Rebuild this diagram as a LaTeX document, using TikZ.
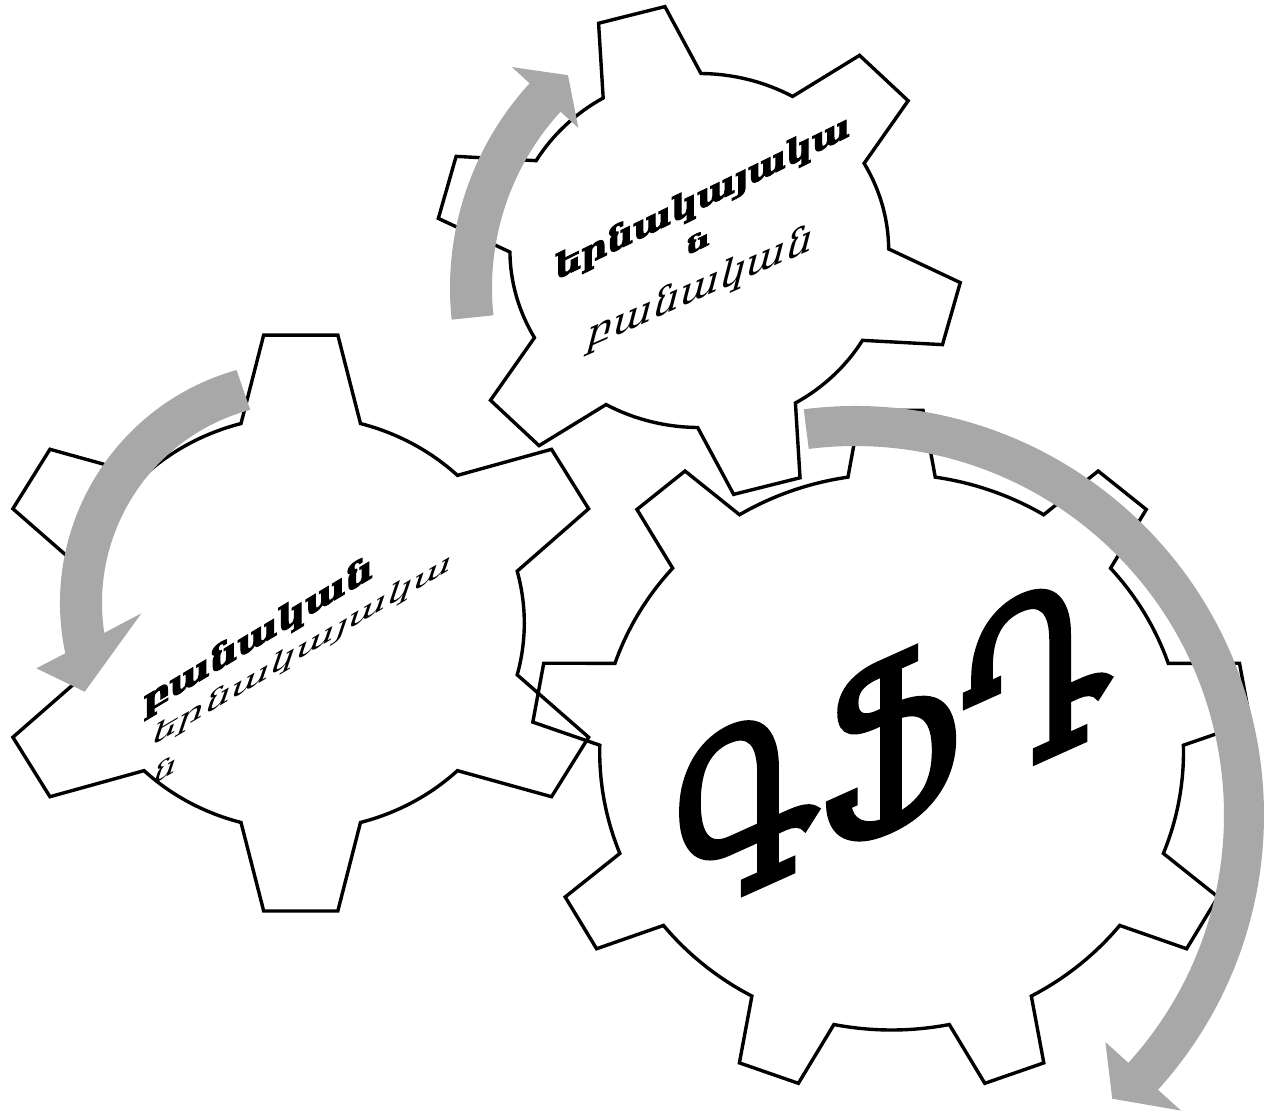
\documentclass[tikz,border=0pt]{standalone}
\usepackage{fontspec}
\usepackage{graphicx}
\newfontfamily\armbig[FakeBold=2.5]{DejaVu Serif}
\newfontfamily\armheavy[BoldFeatures={FakeBold=3}]{DejaVu Serif}
\newfontfamily\armslant[FakeSlant=0.25]{DejaVu Serif}
\definecolor{arrowgray}{RGB}{168,168,168}
\tikzset{
  gearline/.style={draw=black, line width=3.4pt, line join=miter, miter limit=10},
  arrowfill/.style={fill=arrowgray, draw=none},
  txtnode/.style={transform shape, inner sep=0pt, anchor=base}
}
% cx, cy(screen), xscale, teeth, phase, root radius, tip radius, base half-angle, tip half-angle
\newcommand{\drawgear}[9]{%
  \begin{scope}[shift={(#1,-#2)}, xscale=#3]
    \draw[gearline] ({#5+#8}:#6)
      \foreach \kk [evaluate=\kk as \ang using #5-(\kk-1)*360/#4] in {1,...,#4} {
        -- ({\ang+#9}:#7) -- ({\ang-#9}:#7) -- ({\ang-#8}:#6)
        arc[start angle={\ang-#8}, end angle={\ang-360/#4+#8}, radius=#6]
      } -- cycle;
  \end{scope}}
% name, x, ybase(screen), slant, width, height, text(with font)
\newcommand{\slantlabel}[7]{%
  \begin{scope}[shift={(#2,-#3)}, yslant=#4]
    \node[txtnode] (#1) at (0,0) {\resizebox{#5pt}{#6pt}{#7}};
  \end{scope}}
\begin{document}
\begin{tikzpicture}[x=1pt,y=1pt]
\useasboundingbox (0,0) rectangle (1269,-1114);
\fill[white] (0,0) rectangle (1269,-1114);
\clip (0,0) rectangle (1269,-1114);

% gears
\drawgear{300.75}{623}{1.08}{6}{90}{207}{290}{15.5}{6.8}
\drawgear{699.3}{250.5}{1.07}{6}{105}{177}{246}{15.5}{7.5}
\drawgear{891.6}{752}{1.05}{9}{90}{278}{343}{8.6}{5}

% arrows
\begin{scope}[shift={(753,-288)}]
  \fill[arrowfill] (186:303) arc[start angle=186, end angle=137.5, radius=303]
    -- (137.5:327) -- (131:282) -- (137.5:237) -- (137.5:261)
    arc[start angle=137.5, end angle=186, radius=261] -- cycle;
\end{scope}
\begin{scope}[shift={(302,-603)}]
  \fill[arrowfill] (105.7:242) arc[start angle=105.7, end angle=192, radius=242]
    -- (-265.6,-65.3) -- (-217.3,-88.7) -- (-160.6,-10.3) -- (188.6:200)
    arc[start angle=188.6, end angle=105, radius=200] -- cycle;
\end{scope}
\begin{scope}[shift={(855,-815)}]
  \fill[arrowfill] (97.2:409) arc[start angle=97.2, end angle=-42.2, radius=409]
    -- (-42.2:440) -- (-47.8:383) -- (-42.2:338) -- (-42.2:369)
    arc[start angle=-42.2, end angle=97.2, radius=369] -- cycle;
\end{scope}

% texts
\slantlabel{tA1}{702.5}{208}{0.49}{295}{26}{\armheavy\bfseries երնակայակա}
\slantlabel{tA2}{698}{250}{0.49}{24}{17}{\armheavy\bfseries ն}
\slantlabel{tA3}{697.5}{300}{0.44}{225}{28}{\armslant բանական}
\slantlabel{tL1}{258}{646}{0.6}{230}{26}{\armheavy\bfseries բանական}
\slantlabel{tL2}{300}{659}{0.59}{300}{19}{\armslant երնակայակա}
\slantlabel{tL3}{162}{779}{0.59}{24}{18}{\armslant ն}
\slantlabel{tB}{891.5}{827}{0.45}{437}{172}{\armbig ԳՖԴ}
\end{tikzpicture}
\end{document}
